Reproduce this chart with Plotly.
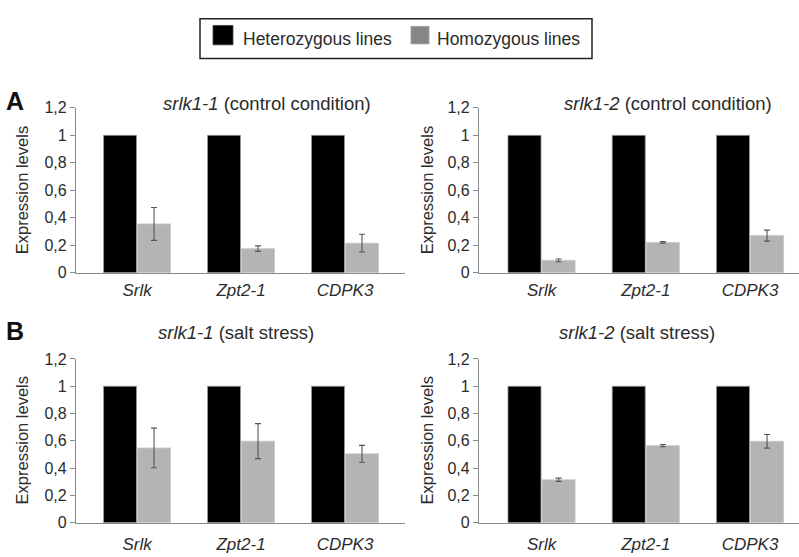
import plotly.graph_objects as go

W, H = 799, 557

categories = ["Srlk", "Zpt2-1", "CDPK3"]
tick_vals = [0, 0.2, 0.4, 0.6, 0.8, 1.0, 1.2]
tick_text = ["0", "0,2", "0,4", "0,6", "0,8", "1", "1,2"]

# Heterozygous lines (reference = 1)
het_a1 = [1.0, 1.0, 1.0]
het_a2 = [1.0, 1.0, 1.0]
het_b1 = [1.0, 1.0, 1.0]
het_b2 = [1.0, 1.0, 1.0]

# Homozygous lines
hom_a1 = [0.355, 0.175, 0.215]
hom_a1_err = [0.12, 0.02, 0.065]
hom_a2 = [0.09, 0.22, 0.27]
hom_a2_err = [0.01, 0.006, 0.04]
hom_b1 = [0.548, 0.598, 0.505]
hom_b1_err = [0.145, 0.128, 0.062]
hom_b2 = [0.315, 0.565, 0.597]
hom_b2_err = [0.012, 0.008, 0.05]

titles = [
    "<i>srlk1-1</i> (control condition)",
    "<i>srlk1-2</i> (control condition)",
    "<i>srlk1-1</i> (salt stress)",
    "<i>srlk1-2</i> (salt stress)",
]

FONT = "Liberation Sans, Arial, sans-serif"
TXT = "#2b2b2b"
AXC = "#8a8a8a"
BLACK = "#000000"
GRAY = "#b4b4b4"
LEG_GRAY = "#868686"


def px(x):
    return x / W


def py(y):
    return 1 - y / H


panels = [
    (het_a1, hom_a1, hom_a1_err, (76, 405), (103, 273), [-0.587, 2.577], 2),
    (het_a2, hom_a2, hom_a2_err, (479, 799), (103, 273), [-0.6, 2.47], 2),
    (het_b1, hom_b1, hom_b1_err, (76, 405), (362, 531), [-0.587, 2.577], 6),
    (het_b2, hom_b2, hom_b2_err, (479, 799), (362, 531), [-0.6, 2.47], 6),
]

fig = go.Figure()
layout_axes = {}
for i, (het, hom, err, xd, yd, xr, stand) in enumerate(panels):
    n = "" if i == 0 else str(i + 1)
    xa, ya = "x" + n, "y" + n
    fig.add_trace(go.Bar(
        x=categories, y=het, xaxis=xa, yaxis=ya, name="Heterozygous lines",
        marker=dict(color=BLACK, line=dict(color="#9a9a9a", width=0.8)),
        showlegend=False, hoverinfo="skip"))
    fig.add_trace(go.Bar(
        x=categories, y=hom, xaxis=xa, yaxis=ya, name="Homozygous lines",
        marker=dict(color=GRAY, line=dict(color="#c8c8c8", width=0.8)),
        error_y=dict(type="data", array=err, visible=True, color="#555555",
                     thickness=1.1, width=3),
        showlegend=False, hoverinfo="skip"))
    layout_axes["xaxis" + n] = dict(
        domain=[max(0, px(xd[0])), min(1, px(xd[1]))], anchor=ya, range=xr,
        type="category", showline=True, linecolor=AXC, linewidth=1.2,
        ticks="", showgrid=False, zeroline=False, fixedrange=True,
        ticklabelstandoff=stand,
        tickfont=dict(family=FONT, size=17, color=TXT, style="italic"))
    layout_axes["yaxis" + n] = dict(
        domain=[py(yd[1]), py(yd[0])], anchor=xa, range=[0, 1.2],
        tickvals=tick_vals, ticktext=tick_text, showline=True, linecolor=AXC,
        linewidth=1.2, ticks="outside", ticklen=5, tickcolor=AXC, tickwidth=1.2,
        showgrid=False, zeroline=False, fixedrange=True,
        tickfont=dict(family=FONT, size=16, color=TXT))

annotations = []
title_pos = [(267, 99), (668, 99), (236, 335), (637, 335)]
for t, (x, y) in zip(titles, title_pos):
    annotations.append(dict(text=t, x=px(x), y=py(y), xref="paper", yref="paper",
                            xanchor="center", yanchor="middle", showarrow=False,
                            font=dict(family=FONT, size=18.5, color=TXT)))
for (x, y) in [(22, 188), (427, 188), (22, 446), (427, 446)]:
    annotations.append(dict(text="Expression levels", x=px(x), y=py(y),
                            xref="paper", yref="paper", textangle=-90,
                            xanchor="center", yanchor="middle", showarrow=False,
                            font=dict(family=FONT, size=16.5, color=TXT)))
for lab, (x, y) in [("A", (15, 96)), ("B", (15, 333))]:
    annotations.append(dict(text="<b>" + lab + "</b>", x=px(x), y=py(y),
                            xref="paper", yref="paper", xanchor="center",
                            yanchor="middle", showarrow=False,
                            font=dict(family=FONT, size=25, color="#111111")))
# legend texts
annotations.append(dict(text="Heterozygous lines", x=px(241), y=py(32),
                        xref="paper", yref="paper", xanchor="left",
                        yanchor="middle", showarrow=False,
                        font=dict(family=FONT, size=17.5, color=TXT)))
annotations.append(dict(text="Homozygous lines", x=px(435), y=py(32),
                        xref="paper", yref="paper", xanchor="left",
                        yanchor="middle", showarrow=False,
                        font=dict(family=FONT, size=17.5, color=TXT)))

shapes = [
    dict(type="rect", xref="paper", yref="paper", x0=px(200), x1=px(592),
         y0=py(52), y1=py(11), line=dict(color="#222222", width=1.5),
         fillcolor="rgba(0,0,0,0)"),
    dict(type="rect", xref="paper", yref="paper", x0=px(213), x1=px(233),
         y0=py(38), y1=py(18), line=dict(color="#444444", width=0.8),
         fillcolor=BLACK),
    dict(type="rect", xref="paper", yref="paper", x0=px(411), x1=px(429),
         y0=py(37), y1=py(19), line=dict(color="#9a9a9a", width=0.8),
         fillcolor=LEG_GRAY),
]

fig.update_layout(
    width=W, height=H, margin=dict(l=0, r=0, t=0, b=0),
    paper_bgcolor="white", plot_bgcolor="white",
    barmode="group", bargap=0.346, bargroupgap=0.03,
    showlegend=False, annotations=annotations, shapes=shapes,
    font=dict(family=FONT, color=TXT),
    **layout_axes)

# remove the browser's default page margin so the 799x557 figure fills the window
fig.write_html(
    "out.html",
    config={"displayModeBar": False},
    post_script="document.body.style.margin='0';document.body.style.overflow='hidden';",
)
